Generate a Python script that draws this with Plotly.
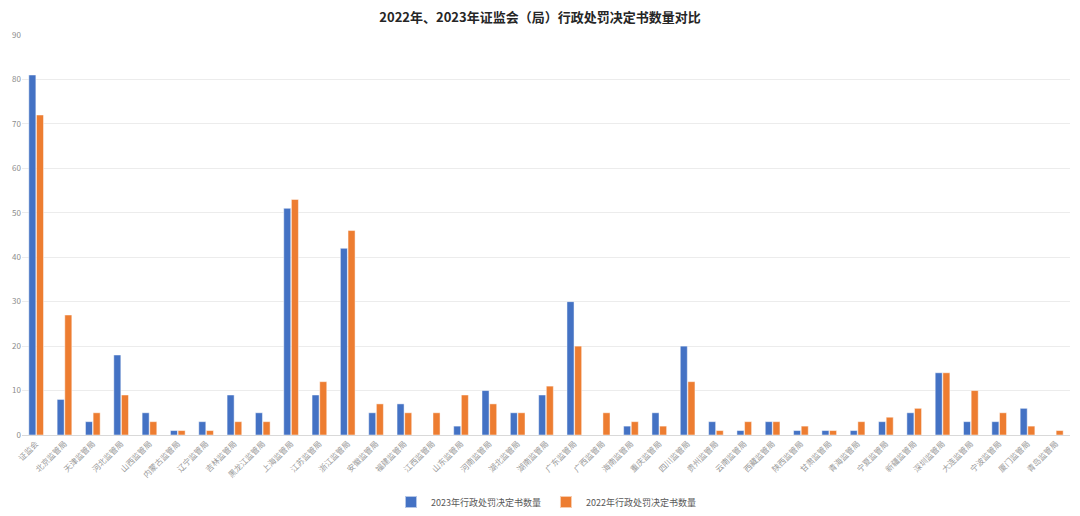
import plotly.graph_objects as go

categories = ["证监会", "北京监管局", "天津监管局", "河北监管局", "山西监管局", "内蒙古监管局",
              "辽宁监管局", "吉林监管局", "黑龙江监管局", "上海监管局", "江苏监管局", "浙江监管局",
              "安徽监管局", "福建监管局", "江西监管局", "山东监管局", "河南监管局", "湖北监管局",
              "湖南监管局", "广东监管局", "广西监管局", "海南监管局", "重庆监管局", "四川监管局",
              "贵州监管局", "云南监管局", "西藏监管局", "陕西监管局", "甘肃监管局", "青海监管局",
              "宁夏监管局", "新疆监管局", "深圳监管局", "大连监管局", "宁波监管局", "厦门监管局",
              "青岛监管局"]
values_2023 = [81, 8, 3, 18, 5, 1, 3, 9, 5, 51, 9, 42, 5, 7, 0, 2, 10, 5, 9, 30, 0, 2, 5, 20,
               3, 1, 3, 1, 1, 1, 3, 5, 14, 3, 3, 6, 0]
values_2022 = [72, 27, 5, 9, 3, 1, 1, 3, 3, 53, 12, 46, 7, 5, 5, 9, 7, 5, 11, 20, 5, 3, 2, 12,
               1, 3, 3, 2, 1, 3, 4, 6, 14, 10, 5, 2, 1]
series_names = ["2023年行政处罚决定书数量", "2022年行政处罚决定书数量"]
title_text = "2022年、2023年证监会（局）行政处罚决定书数量对比"

font_family = "Noto Sans CJK SC, Noto Sans, sans-serif"

fig = go.Figure()
fig.add_trace(go.Bar(x=categories, y=values_2023, name=series_names[0],
                     marker=dict(color="#4472C4", line=dict(color="rgba(255,255,255,0.6)", width=0.8))))
fig.add_trace(go.Bar(x=categories, y=values_2022, name=series_names[1],
                     marker=dict(color="#ED7D31", line=dict(color="rgba(255,255,255,0.6)", width=0.8))))

fig.update_layout(
    width=1080, height=516,
    margin=dict(l=22, r=10, t=35, b=81, autoexpand=False),
    paper_bgcolor="white", plot_bgcolor="white",
    barmode="group", bargap=0.46, bargroupgap=0.08,
    title=dict(text="<b>" + title_text + "</b>", x=0.5, xanchor="center", y=0.967, yanchor="middle",
               font=dict(family=font_family, size=13, color="#262626")),
    font=dict(family=font_family, color="#7f7f7f", size=8),
    showlegend=True,
    legend=dict(orientation="h", x=0.5, xanchor="center", yref="container", y=0.027,
                yanchor="middle",
                font=dict(size=9, color="#595959"), itemwidth=30, itemsizing="constant",
                tracegroupgap=0),
    xaxis=dict(tickangle=-45, tickfont=dict(size=8, color="#999999"), showgrid=False,
               showline=True, linecolor="#d9d9d9", linewidth=1, ticks="", automargin=False),
    yaxis=dict(range=[0, 90], dtick=10, tickfont=dict(size=8, color="#8c8c8c"),
               showgrid=True, gridcolor="#ececec", gridwidth=1, zeroline=False, showline=False,
               ticks="", automargin=False),
)

fig.write_html("out.html")
